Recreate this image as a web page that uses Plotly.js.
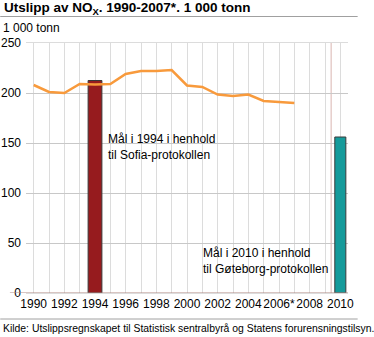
<!DOCTYPE html>
<html>
<head>
<meta charset="utf-8">
<script src="https://cdn.plot.ly/plotly-3.0.1.min.js"></script>
<style>
html,body{margin:0;padding:0;background:#fff;}
#chart{width:374px;height:337px;}
</style>
</head>
<body>
<div id="chart"></div>
<script>
const years = [1990,1991,1992,1993,1994,1995,1996,1997,1998,1999,2000,2001,2002,2003,2004,2005,2006,2007];
const emissions = [208,201,200,209,208.5,209,219,222,222,223,207.5,206,198.5,197,198.5,192,191,190];
const goalYears = [1994, 2010];
const goalValues = [212.5, 156];
const goalColors = ['#961b1e', '#169b9b'];
const tickYears = [1990,1991,1992,1993,1994,1995,1996,1997,1998,1999,2000,2001,2002,2003,2004,2005,2006,2007,2008,2009,2010];
const tickLabels = ['1990','','1992','','1994','','1996','','1998','','2000','','2002','','2004','','2006*','','2008','','2010'];
const yTicks = [0,50,100,150,200,250];

const font = 'Liberation Sans, Arial, sans-serif';

const traces = [
  {
    type: 'scatter',
    mode: 'lines',
    x: years,
    y: emissions,
    line: {color: '#f89a3c', width: 2.5},
    hoverinfo: 'none'
  },
  {
    type: 'bar',
    x: goalYears,
    y: goalValues,
    width: [0.9, 0.72],
    marker: {color: goalColors, line: {color: '#3a3a3a', width: 1}},
    hoverinfo: 'none'
  }
];

const layout = {
  width: 374,
  height: 337,
  margin: {l: 26, r: 26, t: 43, b: 44},
  paper_bgcolor: '#fff',
  plot_bgcolor: '#fff',
  showlegend: false,
  font: {family: font, size: 12, color: '#000'},
  xaxis: {
    range: [1989.5, 2010.5],
    tickvals: tickYears,
    ticktext: tickLabels,
    tickangle: 0,
    showgrid: true,
    gridcolor: '#dcdcdc',
    gridwidth: 1,
    zeroline: false,
    showline: true,
    mirror: true,
    linecolor: '#dcdcdc',
    linewidth: 1,
    ticks: '',
    tickfont: {family: font, size: 12, color: '#000'},
    fixedrange: true
  },
  yaxis: {
    range: [0, 250],
    tickvals: yTicks,
    showgrid: true,
    gridcolor: '#c8c8c8',
    zeroline: false,
    showline: false,
    ticks: '',
    ticklabelstandoff: 4,
    tickfont: {family: font, size: 12, color: '#000'},
    fixedrange: true
  },
  shapes: [
    {type: 'line', xref: 'x', yref: 'paper', x0: 2009.4, x1: 2009.4, y0: 0, y1: 1,
     line: {color: '#d9b5b0', width: 1}, layer: 'below'},
    {type: 'line', xref: 'paper', yref: 'y', x0: -0.05, x1: 1, y0: 0, y1: 0,
     line: {color: '#b08a85', width: 1}, layer: 'above'},
    {type: 'line', xref: 'paper', yref: 'paper', x0: -0.08, x1: 1.03, y0: 1.106, y1: 1.106,
     line: {color: '#a0a0a0', width: 1}},
    {type: 'line', xref: 'paper', yref: 'paper', x0: -0.08, x1: 1.03, y0: -0.104, y1: -0.104,
     line: {color: '#a0a0a0', width: 1}}
  ],
  annotations: [
    {xref: 'paper', yref: 'paper', x: -0.075, y: 1.14, xanchor: 'left', yanchor: 'middle',
     text: '<b>Utslipp av NO<sub>X</sub>. 1990-2007*. 1 000 tonn</b>', showarrow: false,
     font: {family: font, size: 13.5, color: '#000'}},
    {xref: 'paper', yref: 'paper', x: -0.078, y: 1.06, xanchor: 'left', yanchor: 'middle',
     text: '1 000 tonn', showarrow: false, font: {family: font, size: 12, color: '#000'}},
    {xref: 'x', yref: 'y', x: 1994.7, y: 146, xanchor: 'left', yanchor: 'middle', align: 'left',
     text: 'Mål i 1994 i henhold<br>til Sofia-protokollen', showarrow: false,
     font: {family: font, size: 12, color: '#000'}},
    {xref: 'x', yref: 'y', x: 2009.3, y: 32, xanchor: 'right', yanchor: 'middle', align: 'left',
     text: 'Mål i 2010 i henhold<br>til Gøteborg-protokollen', showarrow: false,
     font: {family: font, size: 12, color: '#000'}},
    {xref: 'paper', yref: 'paper', x: -0.078, y: -0.14, xanchor: 'left', yanchor: 'middle',
     text: 'Kilde: Utslippsregnskapet til Statistisk sentralbyrå og Statens forurensningstilsyn.', showarrow: false,
     font: {family: font, size: 10.4, color: '#000'}}
  ]
};

Plotly.newPlot('chart', traces, layout, {displayModeBar: false, staticPlot: true});
</script>
</body>
</html>
